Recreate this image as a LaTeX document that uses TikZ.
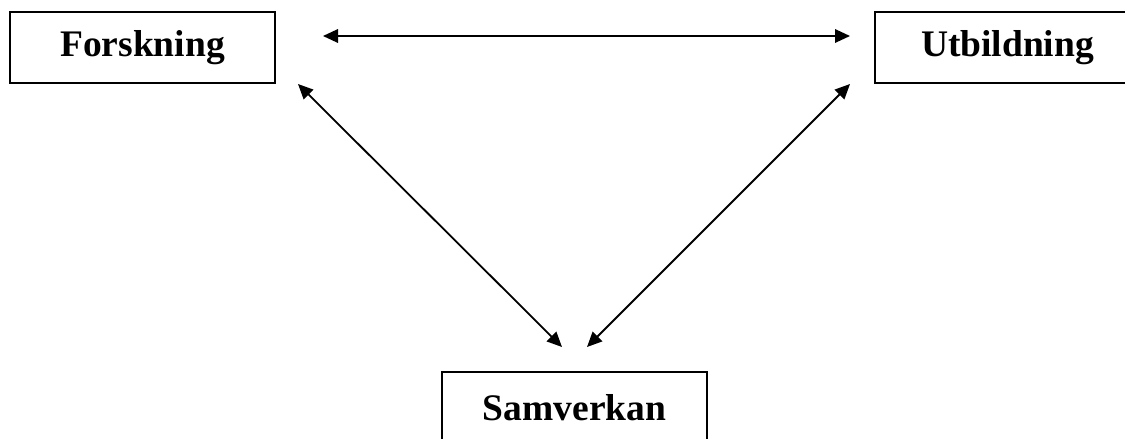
\documentclass[tikz,border=0pt]{standalone}
\usepackage{fontspec}
\setmainfont{Liberation Serif}
\usetikzlibrary{arrows.meta,positioning}
\begin{document}
\begin{tikzpicture}[x=1pt,y=-1pt,
  box/.style={draw, rectangle, line width=2pt, minimum height=71pt, minimum width=265pt, font=\fontsize{37.5}{44}\selectfont\bfseries},
  link/.style={{Triangle[length=15pt,width=13.5pt]}-{Triangle[length=15pt,width=13.5pt]}, line width=1.8pt}]
  \clip (0,0) rectangle (1125,439);
  \node (forsk)[box] at (142.5,47.5) {Forskning};
  \node (utbild)[box, right=598pt of forsk] {Utbildning};
  \node (samv)[box] at (574.5,407.5) {Samverkan};
  % arrow ends, kept off the boxes
  \coordinate (fu) at (323,36);
  \coordinate (uf) at (850,36);
  \coordinate (fs) at (298,84);
  \coordinate (sf) at (562,347);
  \coordinate (us) at (850,84);
  \coordinate (su) at (587,347);
  \draw [link](fu)--(uf);
  \draw [link](fs)--(sf);
  \draw [link](us)--(su);
\end{tikzpicture}
\end{document}
